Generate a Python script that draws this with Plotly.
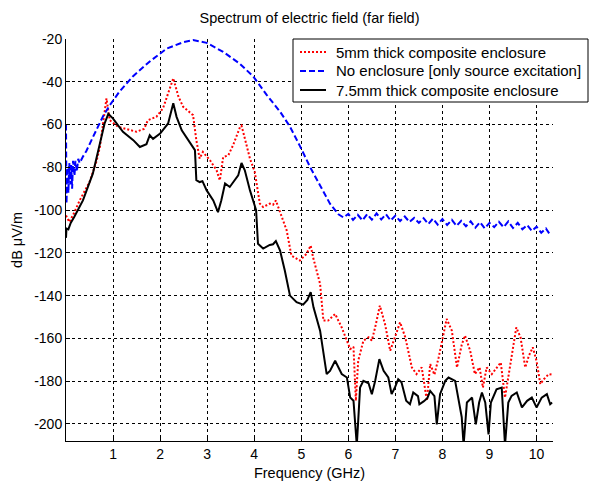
import plotly.graph_objects as go

# Frequency axis in GHz, field level in dB uV/m
red_f = [0.0, 0.03, 0.07, 0.18, 0.29, 0.5, 0.65, 0.72, 0.8, 0.86, 0.93, 1.11, 1.5, 1.66, 1.74,
         1.92, 2.06, 2.2, 2.28, 2.39, 2.49, 2.7, 2.77, 2.84, 2.91, 3.06, 3.2, 3.27, 3.34, 3.45,
         3.55, 3.7, 3.73, 3.81, 3.91, 4.01, 4.12, 4.19, 4.33, 4.4, 4.46, 4.55, 4.69, 4.79, 4.97,
         5.11, 5.2, 5.25, 5.4, 5.47, 5.57, 5.72, 5.86, 6.04, 6.11, 6.16, 6.21, 6.32, 6.43, 6.5,
         6.57, 6.67, 6.78, 6.89, 6.99, 7.1, 7.21, 7.35, 7.45, 7.56, 7.67, 7.74, 7.83, 7.92, 8.09,
         8.2, 8.31, 8.41, 8.48, 8.59, 8.69, 8.79, 8.86, 8.94, 9.05, 9.16, 9.24, 9.33, 9.44, 9.57,
         9.66, 9.76, 9.84, 9.92, 10.0, 10.08, 10.16, 10.26, 10.33]
red_db = [-102.5, -104, -105.6, -101, -95.5, -86.9, -77, -70.5, -57, -47.8, -58, -61.1, -63.4, -62, -58,
          -56.4, -52.5, -43.9, -38.4, -47, -51.7, -55.6, -67.3, -75.9, -72.8, -76.7, -81.4, -86.1, -75.2, -74.4,
          -69.7, -61.1, -60.5, -67.3, -76, -82, -97, -98.6, -97, -97.5, -95.5, -101, -109.5, -121.3, -123.6,
          -120.5, -116.6, -122, -134.5, -151.7, -151.7, -148.6, -154.9, -165, -164, -189.2, -170.5, -161.1, -159.5, -161,
          -154.9, -144.7, -153.3, -165.8, -159.5, -152.5, -159.5, -173.6, -176.7, -173.6, -189.2, -172, -177, -168.9, -150.9,
          -156.4, -173.6, -163, -158.7, -165.8, -176.7, -173.6, -183, -173.6, -176.7, -173.6, -171.3, -187.7, -172, -154.9,
          -159.5, -173.6, -168, -164.2, -170.5, -181.4, -179, -176.7, -177]

blue_f = [0.0, 0.01, 0.03, 0.05, 0.07, 0.09, 0.11, 0.13, 0.15, 0.18, 0.2, 0.23, 0.26, 0.29, 0.36,
          0.43, 0.57, 0.79, 0.93, 1.14, 1.42, 1.78, 2.14, 2.49, 2.7, 2.99, 3.34, 3.69, 3.98, 4.26,
          4.55, 4.76, 4.97, 5.19, 5.4, 5.61, 5.79,
          5.9, 6.0, 6.1, 6.2, 6.3, 6.4, 6.5, 6.6, 6.7, 6.8, 6.9, 7.0, 7.1, 7.2, 7.3, 7.4, 7.5,
          7.6, 7.7, 7.8, 7.9, 8.0, 8.1, 8.2, 8.3, 8.4, 8.5, 8.6, 8.7, 8.8, 8.9, 9.0, 9.1, 9.2,
          9.3, 9.4, 9.5, 9.6, 9.7, 9.8, 9.9, 10.0, 10.1, 10.2, 10.3]
blue_db = [-60, -97, -80, -92, -78, -88, -79, -90, -77, -84, -77, -82, -76, -78, -75,
           -72.5, -66, -56, -51, -44.5, -37.5, -30.5, -24.5, -21.5, -20.5, -21.8, -26, -31.5, -37.5, -46,
           -54, -61, -70, -80, -88.5, -97, -102,
           -103.5, -101.8, -104.6, -102.2, -104.8, -101.9, -104.5, -101.6, -104.4, -102.0, -104.9, -102.6, -105.1,
           -103.0, -105.6, -103.7, -106.0, -103.8, -106.5, -104.0, -106.8, -104.2, -107.0, -104.6, -107.4, -105.0,
           -107.6, -105.3, -108.2, -105.7, -108.6, -106.0, -108.0, -105.5, -108.0, -105.3, -108.4, -106.0, -109.0,
           -107.0, -109.8, -107.8, -110.6, -108.6, -112.0]

black_f = [0.0, 0.01, 0.05, 0.1, 0.18, 0.36, 0.57, 0.72, 0.82, 0.9, 1.0, 1.21, 1.43, 1.57, 1.71,
           1.78, 1.85, 2.0, 2.17, 2.28, 2.35, 2.46, 2.63, 2.74, 2.77, 2.84, 2.9, 2.99, 3.13, 3.23,
           3.3, 3.38, 3.48, 3.59, 3.66, 3.73, 3.8, 3.91, 4.01, 4.04, 4.08, 4.19, 4.33, 4.4, 4.46,
           4.55, 4.65, 4.76, 4.9, 5.04, 5.13, 5.2, 5.26, 5.4, 5.54, 5.61, 5.72, 5.86, 5.97, 6.04,
           6.11, 6.18, 6.21, 6.25, 6.32, 6.43, 6.5, 6.57, 6.66, 6.75, 6.85, 6.92, 6.99, 7.06, 7.13,
           7.23, 7.31, 7.38, 7.48, 7.51, 7.6, 7.68, 7.74, 7.83, 7.88, 7.95, 8.06, 8.13, 8.27, 8.34,
           8.41, 8.45, 8.52, 8.63, 8.71, 8.78, 8.84, 8.91, 8.98, 9.03, 9.15, 9.26, 9.33, 9.4, 9.47,
           9.58, 9.69, 9.8, 9.9, 10.0, 10.11, 10.22, 10.29, 10.33]
black_db = [-113, -108.6, -109, -106, -103, -95.5, -83, -69, -59.5, -55, -57.2, -63.4, -67.3, -70.5, -69.2,
            -65, -66.7, -64.2, -59.5, -50.1, -56.4, -62.7, -68.1, -72, -86, -86.9, -86.5, -90.8, -95.5, -101,
            -95.5, -87.6, -89.2, -86.1, -83.8, -78, -81.4, -90.8, -98, -100, -115.8, -118, -116.3, -116, -114.5,
            -119, -128.3, -140, -143.1, -144.2, -142, -138.4, -145.5, -156.4, -176.7, -175.2, -170.5, -176.7, -178.3, -187.7,
            -189.2, -210, -198.6, -183, -179.9, -181, -186.1, -179.9, -169.7, -175.2, -178.3, -186.1, -183, -179.1, -180.5,
            -189.2, -190.8, -185.3, -187, -190.8, -189.5, -188, -184.6, -187, -200.2, -186.1, -179.9, -178.3, -179.9, -189.2,
            -196.8, -210, -190, -187.7, -200.2, -190, -185.3, -190, -204.9, -190, -183.8, -183, -210, -190, -186.9,
            -185.3, -192.3, -189.2, -187.7, -192.3, -187.7, -186.1, -190.8, -190]

series_names = ["5mm thick composite enclosure",
                "No enclosure [only source excitation]",
                "7.5mm thick composite enclosure"]
series_colors = ["#ff0000", "#0000ff", "#000000"]
series_dashes = ["2px,2px", "6px,3px", "solid"]

x_ticks = [1, 2, 3, 4, 5, 6, 7, 8, 9, 10]
y_ticks = [-20, -40, -60, -80, -100, -120, -140, -160, -180, -200]

FONT = "Liberation Sans, Arial, sans-serif"
W, H = 589, 481
M_L, M_R, M_T, M_B = 66, 36, 39, 40
PLOT_W = W - M_L - M_R
PLOT_H = H - M_T - M_B


def px_x(px):
    """Horizontal pixel position -> paper fraction."""
    return (px - M_L) / PLOT_W


def px_y(py):
    """Vertical pixel position (from top) -> paper fraction."""
    return (H - M_B - py) / PLOT_H


fig = go.Figure()
for xs, ys, name, color, dash in zip([red_f, blue_f, black_f], [red_db, blue_db, black_db],
                                     series_names, series_colors, series_dashes):
    fig.add_trace(go.Scatter(x=xs, y=ys, mode="lines", name=name, showlegend=False,
                             line=dict(color=color, width=2, dash=dash)))

# Boxed key in the upper right corner
shapes = [dict(type="rect", xref="paper", yref="paper",
               x0=px_x(293), x1=px_x(588), y0=px_y(102), y1=px_y(39),
               line=dict(color="black", width=1), fillcolor="white", layer="above")]
annotations = []
row_y = [52, 71, 90]
for name, color, dash, ry in zip(series_names, series_colors, series_dashes, row_y):
    shapes.append(dict(type="line", xref="paper", yref="paper",
                       x0=px_x(300), x1=px_x(326), y0=px_y(ry), y1=px_y(ry),
                       line=dict(color=color, width=2, dash=dash), layer="above"))
    annotations.append(dict(xref="paper", yref="paper", x=px_x(334), y=px_y(ry),
                            xanchor="left", yanchor="middle", showarrow=False,
                            text=name, font=dict(family=FONT, size=15, color="black")))

fig.update_layout(
    width=W, height=H,
    margin=dict(l=M_L, r=M_R, t=M_T, b=M_B, autoexpand=False),
    paper_bgcolor="white", plot_bgcolor="white",
    font=dict(family=FONT, size=14, color="black"),
    title=dict(text="Spectrum of electric field (far field)", x=0.5, xref="paper",
               y=1 - 18 / H, yref="container", yanchor="middle",
               font=dict(family=FONT, size=14.5, color="black")),
    showlegend=False,
    shapes=shapes,
    annotations=annotations,
)
fig.update_xaxes(range=[0, 10.35], tickvals=x_ticks, ticktext=[str(t) for t in x_ticks],
                 showgrid=True, gridcolor="black", gridwidth=1, griddash="3px,3px",
                 showline=True, linecolor="black", linewidth=1, mirror=False,
                 ticks="inside", ticklen=4, tickcolor="black", zeroline=False,
                 tickfont=dict(family=FONT, size=14, color="black"),
                 title=dict(text="Frequency (GHz)", standoff=22,
                            font=dict(family=FONT, size=14.5, color="black")))
fig.update_yaxes(range=[-208, -20], tickvals=y_ticks, ticktext=[str(t) for t in y_ticks],
                 showgrid=True, gridcolor="black", gridwidth=1, griddash="3px,3px",
                 showline=True, linecolor="black", linewidth=1, mirror=False,
                 ticks="inside", ticklen=4, tickcolor="black", zeroline=False,
                 tickfont=dict(family=FONT, size=14, color="black"),
                 title=dict(text="dB μV/m", standoff=8,
                            font=dict(family=FONT, size=14.5, color="black")))

fig.write_html("out.html")
